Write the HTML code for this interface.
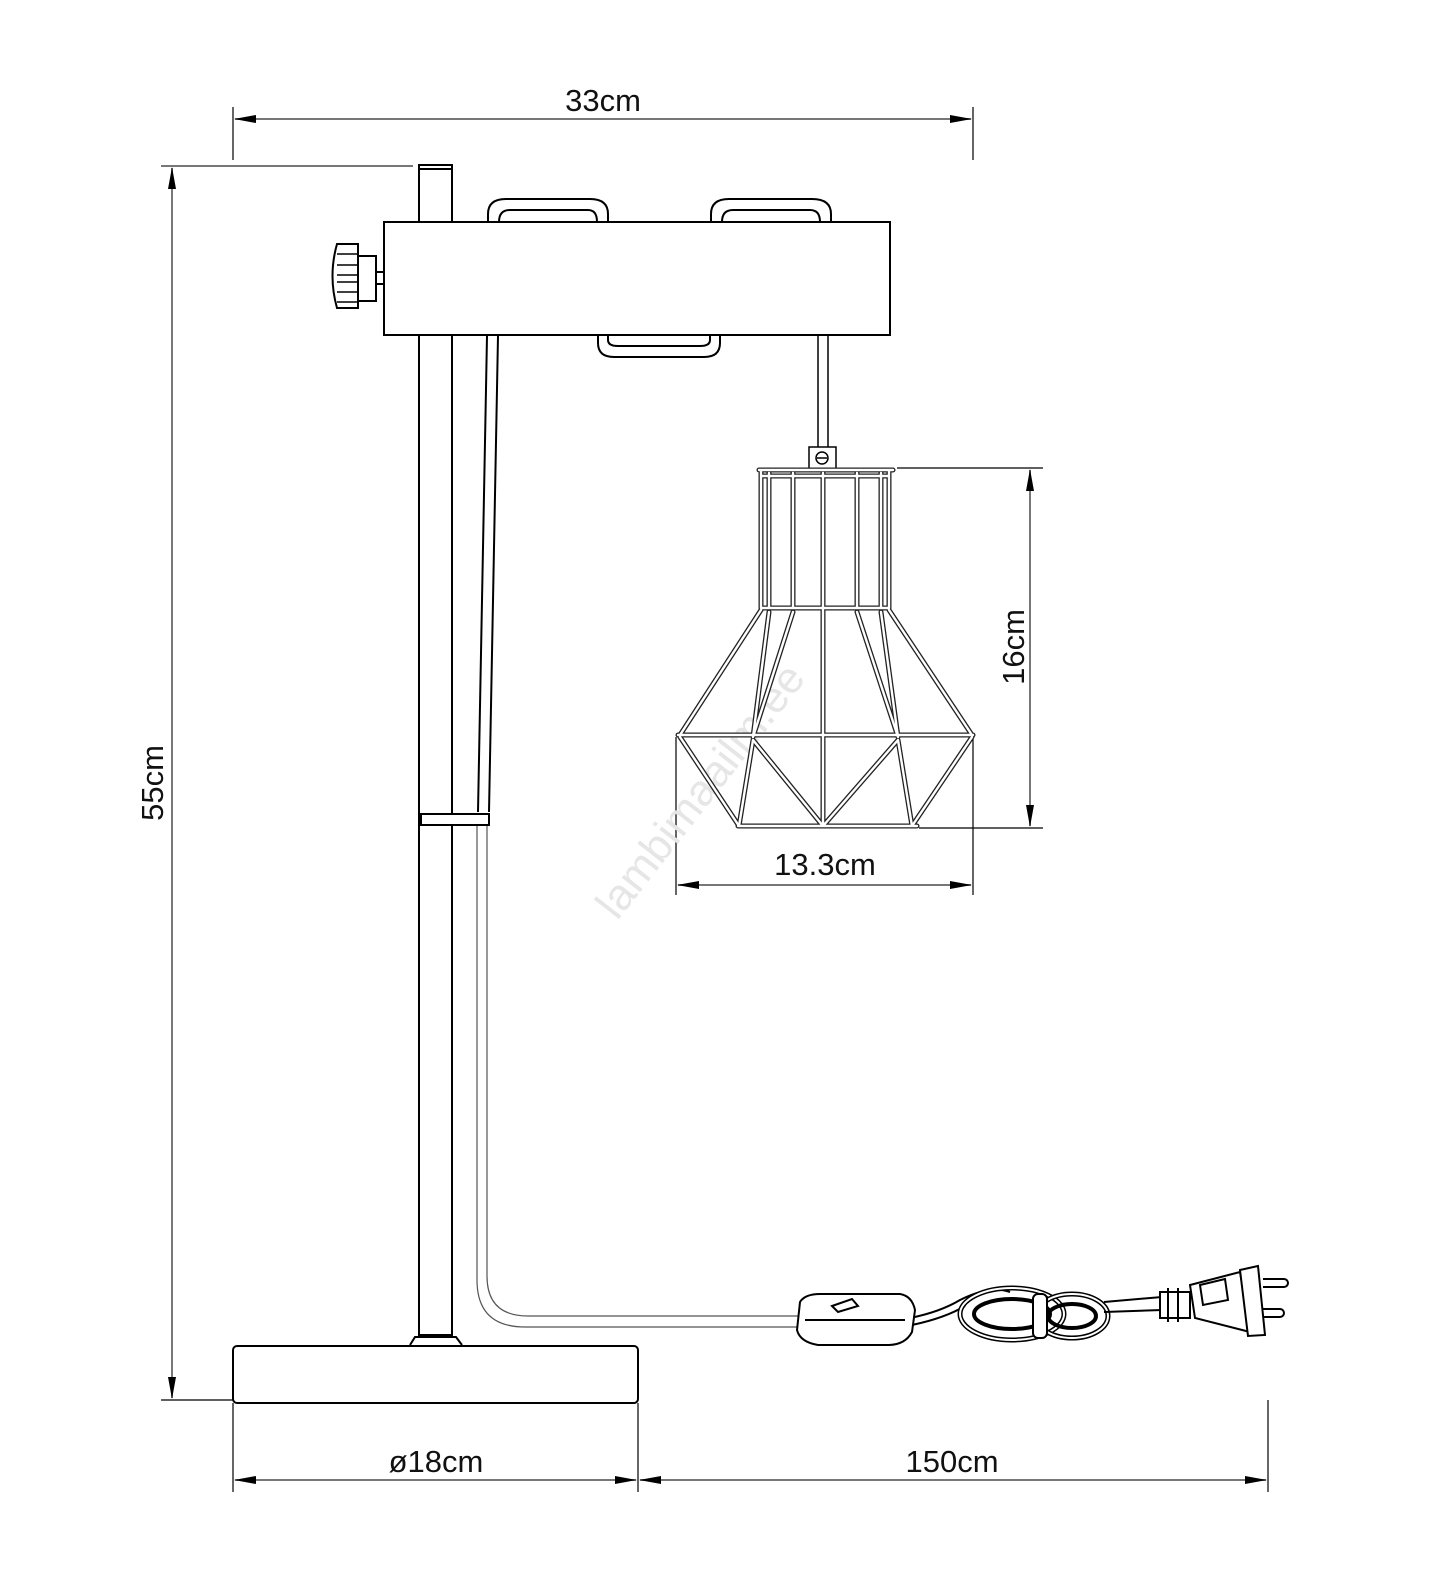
<!DOCTYPE html>
<html><head><meta charset="utf-8"><style>
html,body{margin:0;padding:0;background:#fff;}
svg{display:block;}
text{font-family:"Liberation Sans",sans-serif;fill:#111;}
</style></head><body>
<svg width="1438" height="1572" viewBox="0 0 1438 1572" xmlns="http://www.w3.org/2000/svg">
<defs>
<marker id="a" viewBox="0 0 22 8" refX="21" refY="4" markerWidth="22" markerHeight="8" markerUnits="userSpaceOnUse" orient="auto-start-reverse">
<path d="M0,0 L22,4 L0,8 Z" fill="#000"/></marker>
</defs>
<g stroke="#777" stroke-width="2" fill="none">
<line x1="233" y1="107" x2="233" y2="160" stroke="#000" stroke-width="1.2"/>
<line x1="973" y1="107" x2="973" y2="160" stroke="#000" stroke-width="1.2"/>
<line x1="235" y1="119" x2="971" y2="119" marker-start="url(#a)" marker-end="url(#a)"/>
<line x1="161" y1="166" x2="413" y2="166"/>
<line x1="161" y1="1400" x2="233" y2="1400" stroke="#000" stroke-width="1.2"/>
<line x1="172" y1="168" x2="172" y2="1398" marker-start="url(#a)" marker-end="url(#a)"/>
<line x1="897" y1="468" x2="1043" y2="468" stroke="#000" stroke-width="1.2"/>
<line x1="919" y1="828" x2="1043" y2="828" stroke="#000" stroke-width="1.2"/>
<line x1="1030" y1="470" x2="1030" y2="826" marker-start="url(#a)" marker-end="url(#a)"/>
<line x1="676" y1="737" x2="676" y2="895" stroke="#000" stroke-width="1.2"/>
<line x1="973" y1="737" x2="973" y2="895" stroke="#000" stroke-width="1.2"/>
<line x1="678" y1="885" x2="971" y2="885" marker-start="url(#a)" marker-end="url(#a)"/>
<line x1="233" y1="1403" x2="233" y2="1492" stroke="#000" stroke-width="1.2"/>
<line x1="638" y1="1403" x2="638" y2="1492" stroke="#000" stroke-width="1.2"/>
<line x1="1268" y1="1400" x2="1268" y2="1492" stroke="#000" stroke-width="1.2"/>
<line x1="235" y1="1480" x2="636" y2="1480" marker-start="url(#a)" marker-end="url(#a)"/>
<line x1="640" y1="1480" x2="1266" y2="1480" marker-start="url(#a)" marker-end="url(#a)"/>
</g>
<text x="603" y="111" font-size="31" text-anchor="middle">33cm</text>
<text x="163" y="783" font-size="31" text-anchor="middle" transform="rotate(-90 163 783)">55cm</text>
<text x="1024" y="647" font-size="31" text-anchor="middle" transform="rotate(-90 1024 647)">16cm</text>
<text x="825" y="875" font-size="31" text-anchor="middle">13.3cm</text>
<text x="436" y="1472" font-size="31" text-anchor="middle">ø18cm</text>
<text x="952" y="1472" font-size="31" text-anchor="middle">150cm</text>
<text x="712" y="800" font-size="44" text-anchor="middle" style="fill:#e6e6e6" transform="rotate(-52 712 800)">lambimaailm.ee</text>

<g stroke="#000" fill="none" stroke-width="2">
<rect x="419" y="165" width="33" height="1170" fill="#fff"/>
<line x1="419" y1="169" x2="452" y2="169"/>
<path d="M487,336 L478,812 M498,336 L489,812" stroke-width="2"/>
<path d="M477,826 L477,1280 Q477,1327 525,1327 L800,1327 M487,826 L487,1276 Q487,1316 528,1316 L800,1316" stroke="#555" stroke-width="1.2"/>
<rect x="421" y="814" width="68" height="11" fill="#fff"/>
<path d="M410,1345 L415,1337 L456,1337 L462,1345" fill="#fff"/>
<rect x="233" y="1346" width="405" height="57" rx="4" fill="#fff"/>
<path d="M488,222 V214 Q488,199 506,199 H590 Q608,199 608,214 V222"/>
<path d="M499,222 Q499,210 510,210 H588 Q597,210 597,222"/>
<path d="M711,222 V214 Q711,199 729,199 H812 Q831,199 831,214 V222"/>
<path d="M722,222 Q722,210 733,210 H810 Q820,210 820,222"/>
<path d="M598,335 V343 Q598,357 614,357 H704 Q720,357 720,343 V335"/>
<path d="M608,335 V340 Q608,346 618,346 H700 Q710,346 710,340 V335"/>
<rect x="384" y="222" width="506" height="113" fill="#fff"/>
<rect x="357" y="256" width="19" height="45" fill="#fff"/>
<rect x="376" y="272" width="8" height="12" fill="#fff"/>
<path d="M337,254 H358 V318 H337 Q328,286 337,254 Z" fill="#fff" transform="translate(0,-10)"/>
<path d="M337,254 H357 M337,265 H357 M337,275 H357 M337,282 H357 M337,292 H357 M337,302 H357" stroke-width="1.5"/>
<path d="M818,335 V447 M828,335 V447" stroke-width="1.5"/>
<rect x="809" y="447" width="27" height="22" fill="#fff" stroke-width="1.5"/>
<circle cx="822" cy="458" r="6" stroke-width="1.5"/>
<line x1="817" y1="458" x2="827" y2="458" stroke-width="1.5"/>
</g>
<g stroke-linecap="round" fill="none">
<g stroke="#222" stroke-width="5">
<path id="sh" d="M759,470 H893 M761,476 H889 M761,608 H889
M761,470 V608 M769,473 V608 M793,473 V608 M823,473 V826 M857,473 V608 M881,473 V608 M889,470 V608
M761,610 L680,735 M769,612 L753,737 M793,612 L753,737 M857,612 L898,737 M881,612 L898,737 M889,610 L972,735
M678,735 H973 M738,826 H917
M680,737 L739,826 M753,740 L739,826 M753,740 L823,826 M823,826 L898,740 M898,740 L912,826 M972,737 L912,826"/>
</g>
<g stroke="#fff" stroke-width="2.4">
<use href="#sh"/>
</g>
</g>
<g stroke="#000" fill="#fff" stroke-width="2">
<path d="M910,1318 Q940,1312 960,1300 Q990,1285 1010,1292 M912,1325 Q945,1318 965,1306" fill="none"/>
<ellipse cx="1012" cy="1314" rx="52" ry="26" fill="none" stroke-width="5"/>
<ellipse cx="1012" cy="1314" rx="52" ry="26" fill="none" stroke="#fff" stroke-width="2"/>
<ellipse cx="1012" cy="1314" rx="38" ry="15" fill="none" stroke-width="4"/>
<ellipse cx="1072" cy="1316" rx="36" ry="22" fill="none" stroke-width="5"/>
<ellipse cx="1072" cy="1316" rx="36" ry="22" fill="none" stroke="#fff" stroke-width="2"/>
<ellipse cx="1072" cy="1316" rx="24" ry="12" fill="none" stroke-width="4"/>
<rect x="1033" y="1294" width="14" height="44" rx="5"/>
<path d="M1104,1302 L1162,1297 M1104,1312 L1162,1310" fill="none"/>
<path d="M800,1302 Q805,1294 820,1294 H900 Q912,1296 915,1310 L912,1332 Q905,1345 888,1345 H818 Q800,1342 797,1330 Z"/>
<path d="M805,1320 H905" fill="none"/>
<path d="M832,1306 L852,1299 L858,1306 L838,1312 Z" fill="#fff"/>
<path d="M1160,1292 H1190 V1318 H1160 Z"/>
<path d="M1168,1288 V1322 M1178,1288 V1322" fill="none"/>
<path d="M1190,1285 L1240,1272 L1250,1332 L1195,1318 Z"/>
<path d="M1240,1270 L1258,1266 L1265,1335 L1248,1336 Z"/>
<path d="M1263,1279 H1284 M1263,1287 H1284 M1263,1309 H1280 M1263,1317 H1280" fill="none"/>
<path d="M1284,1279 A4,4 0 0 1 1284,1287 M1280,1309 A4,4 0 0 1 1280,1317" fill="none"/>
<path d="M1200,1285 L1225,1279 L1228,1300 L1203,1305 Z" fill="none"/>
</g>
</svg>
</body></html>
